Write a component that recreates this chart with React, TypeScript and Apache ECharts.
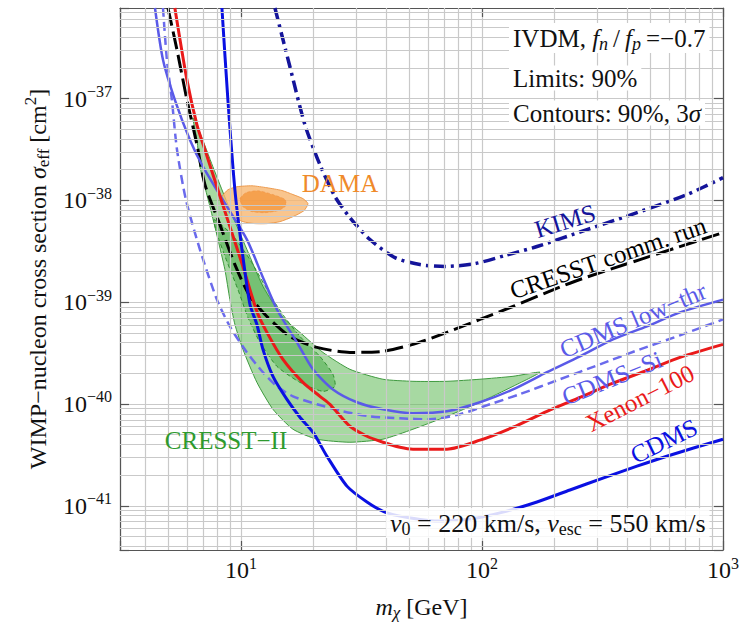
import React, { useEffect, useRef } from 'react';
import * as echarts from 'echarts';

// ---------- axes ----------
const X_MIN = 3.15;
const X_MAX = 1000;
const Y_MIN = 3.68e-42;
const Y_MAX = 7.75e-37;
const Y_UNIT = 1e-42; // plotted in units of 1e-42 cm^2 (log axis precision)
const xTickExponents = [1, 2, 3];
const yTickExponents = [-41, -40, -39, -38, -37];

// ---------- data: [mass GeV, sigma cm^2] ----------
const kims: [number, number][] = [
  [13.84, 7.75e-37], [15.97, 2.05e-37], [18.43, 5.52e-38], [21.27, 2.24e-38], [24.55, 1.09e-38],
  [28.33, 6.77e-39], [34.3, 4.12e-39], [43.55, 2.74e-39], [55.29, 2.34e-39], [70.24, 2.24e-39],
  [93.54, 2.39e-39], [124.5, 2.87e-39], [169.2, 3.52e-39], [272.7, 5.16e-39], [439.7, 7.57e-39],
  [708.8, 1.14e-38], [1000, 1.67e-38],
];
const cresstComm: [number, number][] = [
  [4.98, 7.75e-37], [5.43, 3.0e-37], [5.97, 9.71e-38], [6.57, 3.52e-38], [7.09, 1.43e-38],
  [8.18, 5.78e-39], [9.44, 2.34e-39], [10.9, 1.14e-39], [12.82, 7.24e-40], [15.97, 4.61e-40],
  [20.67, 3.6e-40], [28.33, 3.21e-40], [38.83, 3.29e-40], [51.73, 3.85e-40], [71.59, 5.05e-40],
  [98.11, 6.77e-40], [134.5, 9.07e-40], [186.1, 1.25e-39], [255.0, 1.67e-39], [452.5, 2.62e-39],
  [1000, 4.82e-39],
];
const xenon100: [number, number][] = [
  [5.32, 7.75e-37], [5.97, 1.525e-37], [6.57, 5.52e-38], [7.09, 3.14e-38], [7.95, 1.36e-38],
  [9.0, 5.52e-39], [10.19, 2.24e-39], [11.65, 8.11e-40], [12.82, 5.05e-40], [14.94, 2.74e-40],
  [18.08, 1.63e-40], [21.27, 1.19e-40], [23.41, 9.93e-41], [25.02, 8.29e-41], [28.33, 6.04e-41],
  [33.33, 4.82e-41], [38.83, 4.21e-41], [45.69, 3.76e-41], [51.73, 3.6e-41], [71.59, 3.6e-41],
  [98.11, 4.41e-41], [134.5, 5.91e-41], [186.1, 8.48e-41], [255.0, 1.16e-40], [349.6, 1.6e-40],
  [483.8, 2.14e-40], [663.0, 2.87e-40], [1000, 3.85e-40],
];
const cdms: [number, number][] = [
  [8.34, 7.75e-37], [8.83, 9.71e-38], [9.44, 1.27e-38], [10.1, 3.29e-39], [10.9, 9.5e-40],
  [11.65, 6.04e-40], [12.34, 3.44e-40], [13.58, 1.87e-40], [15.52, 1.11e-40], [17.57, 7.41e-41],
  [19.9, 5.28e-41], [22.74, 3.07e-41], [27.53, 1.56e-41], [33.33, 1.09e-41], [39.58, 8.67e-42],
  [47.92, 7.75e-42], [65.06, 7.08e-42], [89.16, 7.41e-42], [122.2, 8.67e-42], [169.2, 1.09e-41],
  [231.8, 1.43e-41], [317.7, 1.87e-41], [439.7, 2.45e-41], [602.7, 3.14e-41], [1000, 4.51e-41],
];
const cdmsLowThr: [number, number][] = [
  [4.4, 7.75e-37], [4.75, 2.4e-37], [5.32, 9.71e-38], [6.14, 3.94e-38], [6.96, 2.14e-38],
  [8.75, 8.67e-39], [10.59, 4.12e-39], [12.34, 1.75e-39], [14.11, 8.48e-40], [17.08, 4.03e-40],
  [19.9, 2.19e-40], [24.08, 1.39e-40], [30.3, 1.04e-40], [38.83, 8.87e-41], [51.73, 8.11e-41],
  [71.59, 8.48e-41], [98.11, 1.04e-40], [134.5, 1.39e-40], [186.1, 2.05e-40], [255.0, 2.93e-40],
  [349.6, 4.31e-40], [483.8, 5.78e-40], [663.0, 7.93e-40], [1000, 1.06e-39],
];
const cdmsSi: [number, number][] = [
  [4.75, 7.75e-37], [4.93, 2.4e-37], [5.17, 9.71e-38], [5.43, 3.14e-38], [5.91, 1.02e-38],
  [6.76, 3.29e-39], [7.95, 1.06e-39], [9.0, 5.78e-40], [10.59, 3.21e-40], [12.34, 2.05e-40],
  [14.11, 1.49e-40], [16.44, 1.19e-40], [20.67, 9.93e-41], [26.5, 8.48e-41], [34.3, 7.57e-41],
  [45.69, 7.24e-41], [60.84, 7.08e-41], [81.03, 7.93e-41], [107.9, 9.93e-41], [143.8, 1.25e-40],
  [210.7, 1.75e-40], [308.7, 2.45e-40], [452.5, 3.44e-40], [663.0, 4.72e-40], [1000, 6.77e-40],
];
const cresstIIOuter: [number, number][] = [
  [6.32, 6.47e-38], [6.76, 4.61e-38], [7.65, 2.14e-38], [9.0, 8.11e-39], [10.59, 3.29e-39],
  [12.34, 1.43e-39], [14.94, 7.08e-40], [17.57, 5.05e-40], [21.89, 3.21e-40], [28.33, 2.19e-40],
  [38.83, 1.75e-40], [51.73, 1.67e-40], [71.59, 1.67e-40], [98.11, 1.75e-40], [134.5, 1.87e-40],
  [174.1, 2.05e-40], [134.5, 1.49e-40], [98.11, 1.04e-40], [71.59, 7.57e-41], [51.73, 5.65e-41],
  [38.83, 4.51e-41], [28.33, 4.21e-41], [20.67, 4.51e-41], [16.44, 5.65e-41], [13.58, 8.87e-41],
  [11.65, 1.63e-40], [10.19, 3.44e-40], [9.44, 6.04e-40], [9.0, 1.06e-39], [8.58, 2.09e-39],
  [8.03, 4.12e-39], [7.44, 8.67e-39], [6.76, 2.14e-38], [6.57, 3.94e-38],
];
const cresstIIInner: [number, number][] = [
  [7.73, 6.47e-39], [9.18, 4.61e-39], [10.9, 2.62e-39], [13.58, 1.06e-39], [15.23, 7.08e-40],
  [17.57, 4.61e-40], [21.27, 2.93e-40], [24.08, 1.96e-40], [24.55, 1.49e-40], [21.89, 1.33e-40],
  [17.57, 1.63e-40], [14.11, 2.34e-40], [11.99, 4.03e-40], [10.69, 7.08e-40], [9.72, 1.33e-39],
  [8.75, 2.51e-39], [8.03, 4.41e-39],
];
const damaOuter: [number, number][] = [
  [8.34, 1.09e-38], [8.83, 1.27e-38], [9.62, 1.36e-38], [11.11, 1.39e-38], [12.82, 1.33e-38],
  [14.79, 1.25e-38], [16.44, 1.14e-38], [18.08, 1.04e-38], [18.97, 9.28e-39], [18.26, 7.92e-39],
  [16.44, 6.92e-39], [14.51, 6.18e-39], [12.82, 5.91e-39], [11.43, 5.91e-39], [10.19, 6.18e-39],
  [9.18, 7.08e-39], [8.58, 8.29e-39], [8.26, 9.71e-39],
];
const damaInner: [number, number][] = [
  [9.91, 1.04e-38], [10.49, 1.19e-38], [11.76, 1.245e-38], [13.58, 1.14e-38], [15.23, 1.02e-38],
  [15.37, 8.87e-39], [14.24, 7.92e-39], [12.58, 7.57e-39], [11.11, 7.75e-39], [10.19, 8.67e-39],
];

// ---------- styles ----------
const SERIF = "Liberation Serif";
const GRID = '#c9c9c9';
const FRAME = '#555';
const INK = '#111';

const toUnits = (pts: [number, number][]) => pts.map(([m, s]) => [m, s / Y_UNIT]);

const rich = (color: string, size = 25) => ({
  r: { fontFamily: SERIF, fontSize: size, color },
  i: { fontFamily: SERIF, fontSize: size, color, fontStyle: 'italic' },
  sub: { fontFamily: SERIF, fontSize: Math.round(size * 0.7), color, padding: [12, 0, 0, 0] },
  subi: { fontFamily: SERIF, fontSize: Math.round(size * 0.7), color, fontStyle: 'italic', padding: [12, 0, 0, 0] },
  sup: { fontFamily: SERIF, fontSize: Math.round(size * 0.7), color, padding: [0, 0, 14, 0] },
});

const tickRich = {
  b: { fontFamily: SERIF, fontSize: 24, color: INK },
  s: { fontFamily: SERIF, fontSize: 16, color: INK, padding: [0, 0, 14, 0] },
};

function supText(e: number) {
  return e < 0 ? '\u2212' + String(-e) : String(e);
}

function lineSeries(name: string, pts: [number, number][], color: string, width: number, type: any) {
  return {
    type: 'line',
    name,
    data: toUnits(pts),
    showSymbol: false,
    symbol: 'none',
    smooth: 0.25,
    clip: true,
    silent: true,
    z: 3,
    lineStyle: { color, width, type, cap: 'butt', join: 'round' },
  };
}

function polySeries(name: string, pts: [number, number][], fill: string, stroke: string, lw: number, dash?: number[]) {
  const u = toUnits(pts);
  return {
    type: 'custom',
    name,
    coordinateSystem: 'cartesian2d',
    clip: true,
    silent: true,
    z: 2,
    data: [u[0]],
    renderItem: (_p: any, api: any) => ({
      type: 'polygon',
      shape: { points: u.map((p) => api.coord(p)), smooth: 0.2 },
      style: { fill, stroke, lineWidth: lw, lineDash: dash },
    }),
  };
}

function label(text: string, x: number, y: number, color: string, rotDeg = 0) {
  return {
    type: 'text',
    x,
    y,
    z: 100,
    rotation: (rotDeg * Math.PI) / 180,
    style: { text, fill: color, font: `25px "${SERIF}"`, align: 'center', verticalAlign: 'middle' },
  };
}

function richText(text: string, x: number, y: number, bg: string, size = 25) {
  return {
    type: 'text',
    x,
    y,
    z: 100,
    style: {
      text,
      rich: rich(INK, size),
      fill: INK,
      font: `${size}px "${SERIF}"`,
      align: 'left',
      verticalAlign: 'middle',
      backgroundColor: bg,
      padding: [0, 4, 0, 4],
    },
  };
}

export default function App() {
  const ref = useRef<HTMLDivElement>(null);

  useEffect(() => {
    if (!ref.current) return;
    const chart = echarts.init(ref.current, undefined, { renderer: 'svg' });

    const xMinor: number[] = [];
    for (const dec of [1, 10, 100]) for (let k = 2; k <= 9; k++) {
      const v = k * dec;
      if (v > X_MIN && v < X_MAX) xMinor.push(v);
    }
    const yMinor: number[] = [];
    for (let p = 0; p <= 5; p++) for (let k = 2; k <= 9; k++) {
      const v = k * Math.pow(10, p);
      if (v > Y_MIN / Y_UNIT && v < Y_MAX / Y_UNIT) yMinor.push(v);
    }

    const option: any = {
      animation: false,
      textStyle: { fontFamily: SERIF },
      grid: { left: 120, right: 20, top: 8, bottom: 75, containLabel: false },
      xAxis: [
        {
          type: 'log',
          logBase: 10,
          min: X_MIN,
          max: X_MAX,
          position: 'bottom',
          axisLine: { show: true, onZero: false, lineStyle: { color: FRAME, width: 1.2 } },
          axisTick: { show: true, inside: true, length: 9, lineStyle: { color: FRAME, width: 1.2 } },
          axisLabel: {
            margin: 5,
            fontFamily: SERIF,
            fontSize: 24,
            color: INK,
            rich: tickRich,
            formatter: (v: number) => {
              const e = Math.log10(v);
              const r = Math.round(e);
              if (Math.abs(e - r) > 1e-6 || !xTickExponents.includes(r)) return '';
              return `{b|10}{s|${supText(r)}}`;
            },
          },
          splitLine: { show: true, lineStyle: { color: GRID, width: 1.2 } },
          name: '{i|m}{subi|\u03c7}{r| [GeV]}',
          nameLocation: 'middle',
          nameGap: 42,
          nameTextStyle: { fontFamily: SERIF, fontSize: 24, color: INK, rich: rich(INK, 24) },
        },
        {
          type: 'log',
          logBase: 10,
          min: X_MIN,
          max: X_MAX,
          position: 'top',
          axisLine: { show: true, onZero: false, lineStyle: { color: FRAME, width: 1.2 } },
          axisTick: { show: true, inside: true, length: 9, lineStyle: { color: FRAME, width: 1.2 } },
          axisLabel: { show: false },
          splitLine: { show: false },
        },
      ],
      yAxis: [
        {
          type: 'log',
          logBase: 10,
          min: Y_MIN / Y_UNIT,
          max: Y_MAX / Y_UNIT,
          position: 'left',
          axisLine: { show: true, onZero: false, lineStyle: { color: FRAME, width: 1.2 } },
          axisTick: { show: true, inside: true, length: 9, lineStyle: { color: FRAME, width: 1.2 } },
          axisLabel: {
            margin: 8,
            fontFamily: SERIF,
            fontSize: 24,
            color: INK,
            rich: tickRich,
            formatter: (v: number) => {
              const e = Math.log10(v) + Math.log10(Y_UNIT);
              const r = Math.round(e);
              if (Math.abs(e - r) > 1e-6 || !yTickExponents.includes(r)) return '';
              return `{b|10}{s|${supText(r)}}`;
            },
          },
          splitLine: { show: true, lineStyle: { color: GRID, width: 1.2 } },
          name: '{r|WIMP\u2212nucleon cross section }{i|\u03c3}{sub|eff}{r| [cm}{sup|2}{r|]}',
          nameLocation: 'middle',
          nameRotate: 90,
          nameGap: 60,
          nameTextStyle: { fontFamily: SERIF, fontSize: 24, color: INK, rich: rich(INK, 24) },
        },
        {
          type: 'log',
          logBase: 10,
          min: Y_MIN / Y_UNIT,
          max: Y_MAX / Y_UNIT,
          position: 'right',
          axisLine: { show: true, onZero: false, lineStyle: { color: FRAME, width: 1.2 } },
          axisTick: { show: true, inside: true, length: 9, lineStyle: { color: FRAME, width: 1.2 } },
          axisLabel: { show: false },
          splitLine: { show: false },
        },
      ],
      series: [
        {
          type: 'line',
          name: 'minor grid',
          data: [],
          silent: true,
          z: 1,
          symbol: 'none',
          markLine: {
            silent: true,
            symbol: ['none', 'none'],
            label: { show: false },
            emphasis: { disabled: true },
            lineStyle: { color: GRID, width: 1.2, type: 'solid' },
            data: [...xMinor.map((v) => ({ xAxis: v })), ...yMinor.map((v) => ({ yAxis: v }))],
          },
        },
        polySeries('CRESST-II 1', cresstIIOuter, 'rgba(95,185,85,0.55)', '#3f9a3f', 1),
        polySeries('CRESST-II 2', cresstIIInner, 'rgba(60,165,60,0.45)', '#2f8f2f', 1, [4, 3]),
        polySeries('DAMA 1', damaOuter, 'rgba(248,182,112,0.8)', '#ee9b4e', 1),
        polySeries('DAMA 2', damaInner, 'rgba(243,148,58,0.75)', '#ef9040', 0.5, [3, 2]),
        lineSeries('KIMS', kims, '#14149a', 3.5, [12, 5, 3, 5]),
        lineSeries('CRESST comm. run', cresstComm, '#000000', 3, [18, 6]),
        lineSeries('CDMS-Si', cdmsSi, '#6a6aec', 2.5, [9, 5]),
        lineSeries('CDMS low-thr', cdmsLowThr, '#5a5ae8', 2.5, 'solid'),
        lineSeries('Xenon-100', xenon100, '#ea1a1a', 3, 'solid'),
        lineSeries('CDMS', cdms, '#0a10e2', 3, 'solid'),
      ],
      graphic: [
        richText('{r|IVDM, }{i|f}{subi|n}{r|\u2009/\u2009}{i|f}{subi|p}{r|\u2009=\u22120.7}', 509, 38, '#ffffff'),
        richText('{r|Limits: 90%}', 509, 78, '#ffffff'),
        richText('{r|Contours: 90%, 3}{i|\u03c3}', 509, 113, '#ffffff'),
        richText('{i|v}{sub|0}{r| = 220 km/s, }{i|v}{sub|esc}{r| = 550 km/s}', 386, 523, 'rgba(255,255,255,0.85)', 26),
        label('DAMA', 340, 183, '#ef8a2a'),
        label('KIMS', 565, 221, '#14149a', 17),
        label('CRESST comm. run', 608, 258, '#000000', 19),
        label('CDMS low\u2212thr', 633, 320, '#5a5ae8', 23),
        label('CDMS\u2212Si', 612, 378, '#5a5ae8', 22),
        label('Xenon\u2212100', 640, 398, '#ea1a1a', 27),
        label('CDMS', 664, 441, '#0a10e2', 26),
        label('CRESST\u2212II', 226, 440, '#2e9a2e'),
      ],
    };

    chart.setOption(option);
    return () => chart.dispose();
  }, []);

  return (
    <div
      ref={ref}
      style={{ position: 'fixed', left: 0, top: 0, width: 743, height: 626, background: '#ffffff' }}
    />
  );
}
